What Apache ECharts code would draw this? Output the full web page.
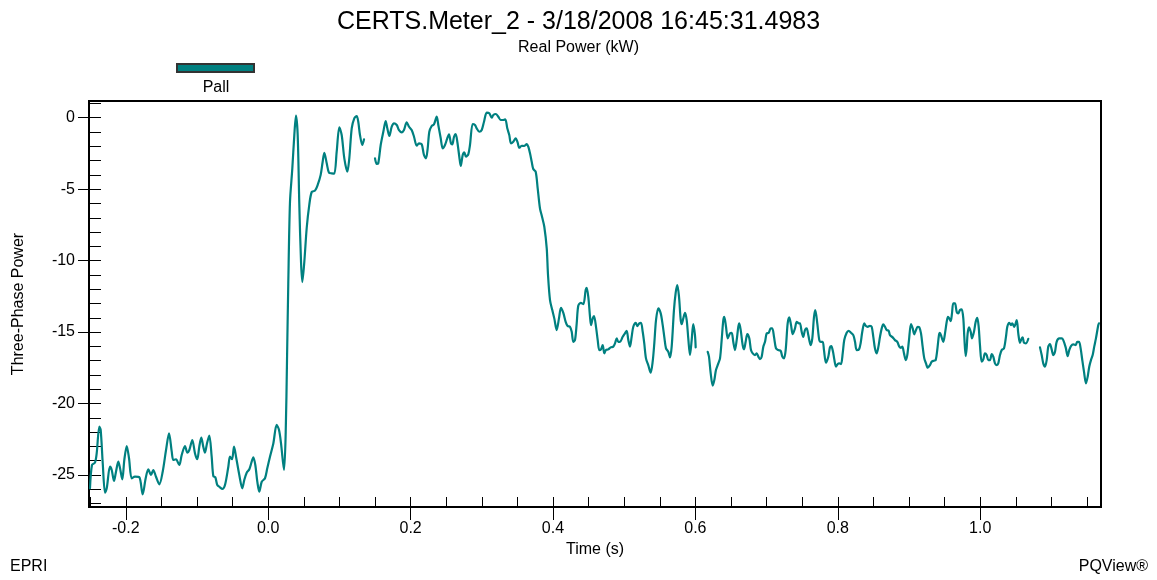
<!DOCTYPE html>
<html><head><meta charset="utf-8">
<script src="https://cdn.jsdelivr.net/npm/echarts@6/dist/echarts.min.js"></script>
<style>html,body{margin:0;padding:0;background:#fff}#chart{width:1157px;height:580px}</style>
</head><body><div id="chart"></div>
<script>
// Time (s), Three-Phase Power (kW) — contiguous recorded segments
const seg1 = [[-0.2503,-25.93],[-0.2475,-24.30],[-0.2433,-24.14],[-0.2409,-23.49],[-0.2372,-21.62],[-0.2353,-21.85],[-0.2324,-24.18],[-0.2292,-26.24],[-0.2268,-25.93],[-0.2222,-24.42],[-0.2198,-24.65],[-0.2166,-25.42],[-0.2138,-24.77],[-0.2105,-24.07],[-0.2081,-24.53],[-0.2049,-25.30],[-0.2021,-23.95],[-0.1987,-22.97],[-0.1955,-23.83],[-0.1917,-25.23],[-0.1871,-25.12],[-0.1810,-25.16],[-0.1763,-26.35],[-0.1721,-25.23],[-0.1684,-24.60],[-0.1646,-25.00],[-0.1614,-24.65],[-0.1576,-25.12],[-0.1529,-25.65],[-0.1482,-24.77],[-0.1435,-23.25],[-0.1393,-22.09],[-0.1355,-23.37],[-0.1333,-23.95],[-0.1295,-23.90],[-0.1249,-24.30],[-0.1215,-23.60],[-0.1169,-22.97],[-0.1136,-23.44],[-0.1108,-23.25],[-0.1066,-22.55],[-0.1028,-23.49],[-0.0996,-23.90],[-0.0968,-23.02],[-0.0940,-22.39],[-0.0912,-23.02],[-0.0888,-23.44],[-0.0860,-22.79],[-0.0827,-22.25],[-0.0794,-23.72],[-0.0771,-25.07],[-0.0743,-25.16],[-0.0715,-25.70],[-0.0677,-25.86],[-0.0645,-25.98],[-0.0607,-25.70],[-0.0560,-24.42],[-0.0537,-23.72],[-0.0508,-23.90],[-0.0480,-23.02],[-0.0452,-23.72],[-0.0406,-25.00],[-0.0364,-25.93],[-0.0336,-25.35],[-0.0302,-24.84],[-0.0265,-24.60],[-0.0232,-24.07],[-0.0209,-23.76],[-0.0181,-24.30],[-0.0153,-25.47],[-0.0125,-26.17],[-0.0091,-25.47],[-0.0045,-25.23],[-0.0013,-24.53],[0.0025,-23.72],[0.0072,-22.79],[0.0119,-21.50],[0.0152,-21.85],[0.0180,-22.79],[0.0222,-24.65],[0.0246,-22.0],[0.0264,-17.0],[0.0282,-11.6],[0.0306,-5.9],[0.0338,-3.6],[0.0367,-1.2],[0.0390,0.14],[0.0414,-1.2],[0.0437,-6.1],[0.0461,-10.1],[0.0479,-11.5],[0.0507,-10.1],[0.0541,-7.7],[0.0577,-6.1],[0.0611,-5.2],[0.0657,-5.1],[0.0695,-4.7],[0.0737,-4.0],[0.0765,-3.08],[0.0788,-2.45],[0.0822,-3.19],[0.0854,-3.85],[0.0892,-3.89],[0.0928,-3.92],[0.0962,-2.38],[0.0999,-0.67],[0.1032,-1.21],[0.1069,-2.84],[0.1111,-3.78],[0.1139,-2.84],[0.1173,-0.74],[0.1209,-0.04],[0.1243,0.12],[0.1265,-0.28],[0.1289,-1.21],[0.1322,-1.91],[0.1346,-1.51]];

const seg2 = [[0.1500,-2.84],[0.1524,-3.24],[0.1546,-3.19],[0.1580,-1.91],[0.1617,-0.98],[0.1650,-0.23],[0.1673,-0.74],[0.1701,-1.28],[0.1735,-0.63],[0.1767,-0.39],[0.1805,-0.51],[0.1837,-0.86],[0.1875,-1.02],[0.1907,-0.86],[0.1945,-0.32],[0.1978,-0.63],[0.2015,-0.86],[0.2048,-1.33],[0.2086,-1.96],[0.2118,-1.79],[0.2156,-1.86],[0.2188,-2.61],[0.2216,-2.84],[0.2240,-2.14],[0.2263,-0.98],[0.2296,-0.58],[0.2329,-0.46],[0.2367,0.07],[0.2389,-0.51],[0.2423,-1.44],[0.2451,-2.14],[0.2483,-1.91],[0.2515,-1.44],[0.2539,-1.16],[0.2567,-1.79],[0.2586,-1.86],[0.2610,-1.33],[0.2633,-1.14],[0.2656,-1.68],[0.2684,-2.73],[0.2704,-3.38],[0.2732,-2.61],[0.2754,-2.42],[0.2778,-2.73],[0.2810,-2.56],[0.2834,-1.91],[0.2872,-0.44],[0.2904,-0.51],[0.2928,-0.74],[0.2965,-0.98],[0.2999,-0.86],[0.3031,-0.28],[0.3069,0.35],[0.3105,0.31],[0.3139,0.00],[0.3162,0.19],[0.3195,0.26],[0.3232,0.07],[0.3265,-0.16],[0.3302,-0.16],[0.3330,-0.11],[0.3358,-0.74],[0.3386,-1.21],[0.3410,-1.79],[0.3442,-1.68],[0.3476,-1.44],[0.3504,-1.75],[0.3527,-2.10],[0.3560,-1.96],[0.3593,-1.98],[0.3631,-1.84],[0.3653,-2.03],[0.3677,-2.49],[0.3701,-3.08],[0.3723,-3.59],[0.3757,-3.78],[0.3785,-4.94],[0.3817,-6.34],[0.3846,-6.93],[0.3878,-7.63],[0.3912,-9.14],[0.3930,-11.0],[0.3958,-12.76],[0.3990,-13.46],[0.4018,-14.04],[0.4052,-14.86],[0.4084,-14.04],[0.4112,-13.30],[0.4145,-13.65],[0.4178,-14.28],[0.4206,-14.58],[0.4239,-14.63],[0.4263,-14.98],[0.4285,-15.68],[0.4309,-15.56],[0.4333,-14.39],[0.4355,-13.16],[0.4389,-12.95],[0.4426,-13.04],[0.4459,-12.06],[0.4473,-11.90],[0.4496,-12.53],[0.4520,-13.93],[0.4534,-14.51],[0.4558,-14.04],[0.4576,-13.88],[0.4604,-14.63],[0.4628,-15.56],[0.4650,-16.26],[0.4674,-16.21],[0.4698,-15.91],[0.4721,-16.49],[0.4744,-16.26],[0.4777,-16.21],[0.4810,-16.07],[0.4847,-16.02],[0.4871,-15.79],[0.4895,-15.44],[0.4917,-15.68],[0.4941,-15.68],[0.4979,-15.33],[0.5011,-15.09],[0.5035,-14.91],[0.5058,-15.56],[0.5081,-16.02],[0.5105,-15.33],[0.5128,-14.63],[0.5162,-14.35],[0.5184,-14.58],[0.5212,-14.39],[0.5236,-14.35],[0.5260,-14.98],[0.5282,-15.79],[0.5306,-16.84],[0.5338,-17.31],[0.5372,-17.84],[0.5400,-17.07],[0.5423,-15.79],[0.5447,-14.16],[0.5479,-13.34],[0.5513,-13.69],[0.5541,-14.51],[0.5563,-15.33],[0.5587,-16.14],[0.5619,-16.38],[0.5643,-16.77],[0.5667,-16.02],[0.5699,-13.46],[0.5723,-12.25],[0.5746,-11.71],[0.5770,-12.53],[0.5794,-14.16],[0.5808,-14.44],[0.5830,-14.04],[0.5854,-13.65],[0.5878,-14.16],[0.5900,-15.44],[0.5924,-16.61],[0.5948,-15.56],[0.5970,-14.44],[0.5994,-15.21],[0.6004,-16.07]];

const seg3 = [[0.6173,-16.38],[0.6191,-16.72],[0.6215,-17.89],[0.6243,-18.75],[0.6266,-18.36],[0.6289,-17.66],[0.6322,-17.19],[0.6346,-16.84],[0.6369,-15.56],[0.6392,-14.16],[0.6406,-13.93],[0.6430,-14.63],[0.6454,-15.44],[0.6486,-15.09],[0.6510,-15.05],[0.6532,-15.68],[0.6556,-16.26],[0.6580,-15.56],[0.6603,-14.63],[0.6617,-14.39],[0.6640,-14.98],[0.6664,-15.91],[0.6683,-16.21],[0.6706,-15.68],[0.6729,-15.14],[0.6757,-15.44],[0.6781,-16.26],[0.6805,-16.49],[0.6837,-16.61],[0.6861,-16.49],[0.6884,-16.72],[0.6907,-16.89],[0.6931,-16.72],[0.6954,-16.02],[0.6978,-15.68],[0.7001,-15.09],[0.7030,-15.05],[0.7058,-14.74],[0.7080,-14.74],[0.7104,-15.33],[0.7132,-16.14],[0.7164,-16.26],[0.7198,-16.31],[0.7221,-16.72],[0.7244,-16.84],[0.7268,-16.26],[0.7296,-14.39],[0.7319,-13.97],[0.7343,-14.51],[0.7367,-15.14],[0.7399,-14.74],[0.7423,-14.28],[0.7455,-14.39],[0.7469,-14.39],[0.7493,-14.98],[0.7515,-15.33],[0.7539,-14.86],[0.7563,-14.74],[0.7586,-15.21],[0.7619,-15.91],[0.7642,-15.44],[0.7666,-13.93],[0.7684,-13.46],[0.7712,-14.39],[0.7740,-15.56],[0.7760,-15.68],[0.7788,-15.68],[0.7806,-16.26],[0.7834,-17.14],[0.7867,-16.72],[0.7890,-16.07],[0.7909,-15.98],[0.7933,-16.38],[0.7951,-16.91],[0.7975,-17.42],[0.7999,-17.24],[0.8021,-17.19],[0.8045,-17.24],[0.8069,-16.49],[0.8091,-15.56],[0.8125,-15.05],[0.8153,-14.91],[0.8185,-15.05],[0.8218,-15.21],[0.8242,-15.68],[0.8265,-16.26],[0.8298,-16.21],[0.8322,-15.75],[0.8344,-14.98],[0.8372,-14.39],[0.8396,-14.58],[0.8420,-14.63],[0.8452,-14.56],[0.8476,-14.63],[0.8499,-15.33],[0.8522,-16.14],[0.8546,-16.49],[0.8569,-16.07],[0.8593,-15.33],[0.8617,-14.74],[0.8639,-14.46],[0.8663,-14.63],[0.8687,-14.86],[0.8715,-14.91],[0.8733,-15.21],[0.8771,-15.37],[0.8803,-15.56],[0.8836,-15.68],[0.8864,-16.02],[0.8888,-16.10],[0.8906,-16.02],[0.8930,-16.49],[0.8954,-16.96],[0.8976,-16.61],[0.9000,-15.56],[0.9028,-14.44],[0.9052,-14.74],[0.9074,-15.16],[0.9098,-14.86],[0.9122,-14.63],[0.9145,-14.67],[0.9169,-15.09],[0.9192,-16.02],[0.9215,-16.84],[0.9239,-17.19],[0.9263,-17.49],[0.9295,-17.31],[0.9319,-17.07],[0.9351,-17.00],[0.9375,-16.96],[0.9397,-16.26],[0.9421,-15.21],[0.9435,-15.05],[0.9459,-15.37],[0.9482,-15.68],[0.9506,-15.09],[0.9530,-14.28],[0.9548,-13.93],[0.9566,-14.04],[0.9586,-14.23],[0.9604,-13.69],[0.9622,-12.99],[0.9646,-12.99],[0.9670,-13.58],[0.9692,-13.69],[0.9716,-13.46],[0.9740,-13.41],[0.9763,-14.04],[0.9777,-15.33],[0.9796,-16.68],[0.9810,-16.14],[0.9824,-15.09],[0.9843,-14.67],[0.9867,-14.98],[0.9885,-15.44],[0.9913,-14.98],[0.9937,-14.28],[0.9959,-14.00],[0.9979,-14.63],[0.9997,-15.91],[1.0021,-17.07],[1.0044,-16.91],[1.0067,-16.49],[1.0091,-16.61],[1.0114,-16.96],[1.0138,-16.96],[1.0162,-16.54],[1.0184,-16.72],[1.0208,-17.19],[1.0232,-17.31],[1.0254,-17.19],[1.0278,-16.61],[1.0302,-16.26],[1.0334,-16.14],[1.0362,-15.33],[1.0381,-14.63],[1.0409,-14.35],[1.0433,-14.51],[1.0451,-14.39],[1.0479,-14.63],[1.0513,-14.16],[1.0535,-15.09],[1.0559,-15.75],[1.0583,-15.44],[1.0597,-15.37],[1.0615,-15.75],[1.0643,-15.79],[1.0676,-15.47]];

const seg4 = [[1.0840,-16.07],[1.0864,-16.61],[1.0886,-17.19],[1.0910,-17.42],[1.0934,-16.96],[1.0956,-16.02],[1.0980,-15.84],[1.1004,-16.21],[1.1027,-16.61],[1.1051,-16.38],[1.1074,-15.68],[1.1111,-15.44],[1.1145,-15.44],[1.1167,-15.56],[1.1201,-16.07],[1.1229,-16.68],[1.1251,-16.26],[1.1275,-15.98],[1.1308,-15.86],[1.1341,-15.91],[1.1364,-15.68],[1.1388,-15.68],[1.1411,-16.14],[1.1434,-16.96],[1.1458,-17.77],[1.1486,-18.59],[1.1510,-18.12],[1.1532,-17.42],[1.1556,-16.96],[1.1580,-16.61],[1.1602,-16.02],[1.1626,-15.44],[1.1659,-14.51],[1.1668,-14.39]];

// gap markers between recorded segments (time where data is missing)
const gapTimes = [0.142, 0.608, 1.075];

const xMajorTicks = [-0.2, 0.0, 0.2, 0.4, 0.6, 0.8, 1.0];
const xMinorTicks = [-0.25,-0.2,-0.15,-0.1,-0.05,0,0.05,0.1,0.15,0.2,0.25,0.3,0.35,0.4,0.45,0.5,0.55,0.6,0.65,0.7,0.75,0.8,0.85,0.9,0.95,1.0,1.05,1.1,1.15];
const yMajorTicks = [-25, -20, -15, -10, -5, 0];
const yMinorTicks = [-27,-26,-25,-24,-23,-22,-21,-20,-19,-18,-17,-16,-15,-14,-13,-12,-11,-10,-9,-8,-7,-6,-5,-4,-3,-2,-1,0,1];

const xRange = [-0.2517, 1.1697];
const yRange = [-27.24, 1.17];

const FONT = '"Liberation Sans", Arial, Helvetica, sans-serif';
const TEAL = '#008080';

const lineData = [].concat(seg1, [[gapTimes[0], '-']], seg2, [[gapTimes[1], '-']], seg3, [[gapTimes[2], '-']], seg4);

const chart = echarts.init(document.getElementById('chart'), null, {renderer: 'canvas'});
const txt = {color: '#000', fontFamily: FONT, fontSize: 16};
chart.setOption({
  animation: false,
  backgroundColor: '#fff',
  title: [
    {text: 'CERTS.Meter_2 - 3/18/2008 16:45:31.4983', left: 'center', top: 5,
     textStyle: {fontSize: 25, fontWeight: 'normal', color: '#000', fontFamily: FONT}},
    {text: 'Real Power (kW)', left: 'center', top: 35,
     textStyle: {fontSize: 16, fontWeight: 'normal', color: '#000', fontFamily: FONT}}
  ],
  grid: {left: 89, top: 101, width: 1012, height: 406, show: true, borderColor: '#000', borderWidth: 2, backgroundColor: 'transparent', containLabel: false},
  xAxis: [
    {type: 'value', min: xRange[0], max: xRange[1], position: 'bottom',
     axisLine: {show: true, onZero: false, lineStyle: {color: '#000', width: 2}},
     axisTick: {show: true, inside: false, length: 13, customValues: xMajorTicks, lineStyle: {color: '#000', width: 1}},
     axisLabel: {customValues: xMajorTicks, formatter: v => v.toFixed(1), margin: 14, ...txt},
     splitLine: {show: false},
     name: 'Time (s)', nameLocation: 'middle', nameGap: 30, nameTextStyle: {...txt}},
    {type: 'value', min: xRange[0], max: xRange[1], position: 'bottom',
     axisLine: {show: false, onZero: false},
     axisTick: {show: true, inside: true, length: 10, customValues: xMinorTicks, lineStyle: {color: '#000', width: 1}},
     axisLabel: {show: false}, splitLine: {show: false}}
  ],
  yAxis: [
    {type: 'value', min: yRange[0], max: yRange[1], position: 'left',
     axisLine: {show: true, onZero: false, lineStyle: {color: '#000', width: 2}},
     axisTick: {show: true, inside: false, length: 11, customValues: yMajorTicks, lineStyle: {color: '#000', width: 1}},
     axisLabel: {customValues: yMajorTicks, formatter: v => String(v), margin: 14, ...txt},
     splitLine: {show: false},
     name: 'Three-Phase Power', nameLocation: 'middle', nameGap: 62, nameTextStyle: {...txt}},
    {type: 'value', min: yRange[0], max: yRange[1], position: 'left',
     axisLine: {show: false, onZero: false},
     axisTick: {show: true, inside: true, length: 12, customValues: yMinorTicks, lineStyle: {color: '#000', width: 1}},
     axisLabel: {show: false}, splitLine: {show: false}}
  ],
  series: [{
    name: 'Pall', type: 'line', xAxisIndex: 0, yAxisIndex: 0,
    data: lineData, showSymbol: false, symbol: 'none', connectNulls: false,
    smooth: 0.3,
    lineStyle: {color: TEAL, width: 2.2, join: 'round', cap: 'round'}, itemStyle: {color: TEAL}, clip: true
  }],
  graphic: [
    {type: 'rect', shape: {x: 177, y: 64, width: 77, height: 8}, style: {fill: TEAL, stroke: '#333', lineWidth: 2}},
    {type: 'text', x: 216, y: 88, style: {text: 'Pall', fill: '#000', font: '16px ' + FONT, align: 'center', verticalAlign: 'middle'}},
    {type: 'text', x: 10, y: 567, style: {text: 'EPRI', fill: '#000', font: '16px ' + FONT, align: 'left', verticalAlign: 'middle'}},
    {type: 'text', x: 1148, y: 567, style: {text: 'PQView®', fill: '#000', font: '16px ' + FONT, align: 'right', verticalAlign: 'middle'}}
  ]
});
</script></body></html>
